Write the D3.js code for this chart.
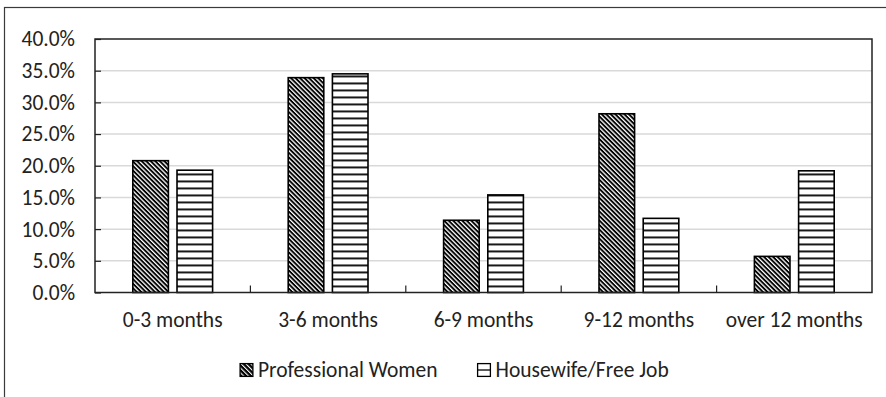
<!DOCTYPE html>
<html>
<head>
<meta charset="utf-8">
<script src="https://cdn.jsdelivr.net/npm/d3@7/dist/d3.min.js"></script>
<style>
  html, body { margin: 0; padding: 0; background: #fff; }
  svg { display: block; font-family: Carlito, "Open Sans", "Noto Sans", sans-serif; }
</style>
</head>
<body>
<svg id="chart" width="886" height="397"></svg>
<script>
// Share of respondents by duration, per group
const categories = ["0-3 months", "3-6 months", "6-9 months", "9-12 months", "over 12 months"];
const seriesNames = ["Professional Women", "Housewife/Free Job"];
const professionalWomen = [20.8, 33.9, 11.4, 28.2, 5.7];
const housewifeFreeJob = [19.3, 34.5, 15.4, 11.7, 19.2];
const yTicks = [0, 5, 10, 15, 20, 25, 30, 35, 40];

const seriesValues = [professionalWomen, housewifeFreeJob];

const FONT = "Carlito, 'Open Sans', 'Noto Sans', sans-serif";
const FONT_SIZE = 21.5;
const TEXT_COLOR = "#222";

const svg = d3.select("#chart");
const W = 886, H = 397;
const plot = { left: 95, right: 872, top: 39, bottom: 292.5 };

// Outer chart frame
svg.append("rect")
  .attr("x", 4.5).attr("y", 7.5)
  .attr("width", W + 10).attr("height", H + 10)
  .attr("fill", "none").attr("stroke", "#3a3a3a").attr("stroke-width", 1.2);

// Fill patterns
const defs = svg.append("defs");
const diag = defs.append("pattern")
  .attr("id", "diag").attr("patternUnits", "userSpaceOnUse")
  .attr("width", 4).attr("height", 3.2)
  .attr("patternTransform", "rotate(45)");
diag.append("rect").attr("width", 4).attr("height", 3.2).attr("fill", "#fff");
diag.append("rect").attr("width", 4).attr("height", 1.9).attr("fill", "#000");

const horiz = defs.append("pattern")
  .attr("id", "horiz").attr("patternUnits", "userSpaceOnUse")
  .attr("width", 8).attr("height", 7)
  .attr("y", plot.bottom);
horiz.append("rect").attr("width", 8).attr("height", 7).attr("fill", "#fff");
horiz.append("rect").attr("y", 0).attr("width", 8).attr("height", 1.8).attr("fill", "#000");

const dl = defs.append("pattern")
  .attr("id", "diagLegend").attr("patternUnits", "userSpaceOnUse")
  .attr("width", 3.4).attr("height", 3.4).attr("patternTransform", "rotate(45)");
dl.append("rect").attr("width", 3.4).attr("height", 3.4).attr("fill", "#fff");
dl.append("rect").attr("width", 3.4).attr("height", 2.3).attr("fill", "#000");

const fills = ["url(#diag)", "url(#horiz)"];

const x = d3.scaleBand().domain(categories).range([plot.left, plot.right]).padding(0);
const xs = d3.scaleBand().domain(seriesNames).range([0, x.bandwidth()])
  .paddingInner(0.195).paddingOuter(0.855);
const y = d3.scaleLinear().domain([0, 40]).range([plot.bottom, plot.top]);

// Gridlines
svg.append("g")
  .selectAll("line")
  .data(yTicks.filter(d => d > 0 && d < 40))
  .join("line")
  .attr("x1", plot.left).attr("x2", plot.right)
  .attr("y1", d => y(d)).attr("y2", d => y(d))
  .attr("stroke", "#d9d9d9").attr("stroke-width", 1.5);

// Bars
const groups = svg.append("g").selectAll("g")
  .data(categories)
  .join("g")
  .attr("transform", d => `translate(${x(d)},0)`);

groups.selectAll("rect")
  .data((c, i) => seriesNames.map((s, k) => ({ s, k, v: seriesValues[k][i] })))
  .join("rect")
  .attr("x", d => xs(d.s))
  .attr("width", xs.bandwidth())
  .attr("y", d => y(d.v))
  .attr("height", d => y(0) - y(d.v))
  .attr("fill", d => fills[d.k])
  .attr("stroke", "#000").attr("stroke-width", 1.6);

// Y axis (ticks point inward)
const yAxis = d3.axisLeft(y).tickValues(yTicks)
  .tickSize(-6).tickPadding(20)
  .tickFormat(d => d.toFixed(1) + "%");
const yg = svg.append("g").attr("transform", `translate(${plot.left},0)`).call(yAxis);
yg.select(".domain").remove();
yg.selectAll(".tick line").attr("stroke", "#222").attr("stroke-width", 1.2);
yg.selectAll(".tick text").attr("font-size", FONT_SIZE).attr("fill", TEXT_COLOR)
  .attr("font-family", FONT);

// Category boundary ticks along the baseline
svg.append("g").selectAll("line")
  .data(categories.slice(1))
  .join("line")
  .attr("x1", d => x(d)).attr("x2", d => x(d))
  .attr("y1", plot.bottom).attr("y2", plot.bottom - 7)
  .attr("stroke", "#222").attr("stroke-width", 1.2);

// X axis labels
const xAxis = d3.axisBottom(x).tickSize(0).tickPadding(19);
const xg = svg.append("g").attr("transform", `translate(0,${plot.bottom})`).call(xAxis);
xg.select(".domain").remove();
xg.selectAll(".tick text").attr("font-size", FONT_SIZE).attr("fill", TEXT_COLOR)
  .attr("font-family", FONT);

// Plot area frame
svg.append("rect")
  .attr("x", plot.left).attr("y", plot.top)
  .attr("width", plot.right - plot.left).attr("height", plot.bottom - plot.top)
  .attr("fill", "none").attr("stroke", "#222").attr("stroke-width", 1.5);

// Legend
const legendItems = [
  { name: seriesNames[0], x: 239.5 },
  { name: seriesNames[1], x: 477 }
];
const lg = svg.append("g").selectAll("g")
  .data(legendItems)
  .join("g")
  .attr("transform", d => `translate(${d.x},363)`);
lg.each(function(d, i) {
  const g = d3.select(this);
  if (i === 0) {
    g.append("rect").attr("x", 0.6).attr("y", 0.6).attr("width", 12.8).attr("height", 12.8)
      .attr("fill", "url(#diagLegend)").attr("stroke", "#000").attr("stroke-width", 1.3);
  } else {
    g.append("rect").attr("x", 0.6).attr("y", 0.6).attr("width", 12.8).attr("height", 12.8)
      .attr("fill", "#fff").attr("stroke", "#000").attr("stroke-width", 1.3);
    g.append("line").attr("x1", 0.6).attr("x2", 13.4).attr("y1", 7).attr("y2", 7)
      .attr("stroke", "#000").attr("stroke-width", 1.3);
  }
  g.append("text").attr("x", 18.5).attr("y", 13.5)
    .attr("font-size", FONT_SIZE).attr("fill", TEXT_COLOR)
    .attr("font-family", FONT)
    .text(d.name);
});
</script>
</body>
</html>
